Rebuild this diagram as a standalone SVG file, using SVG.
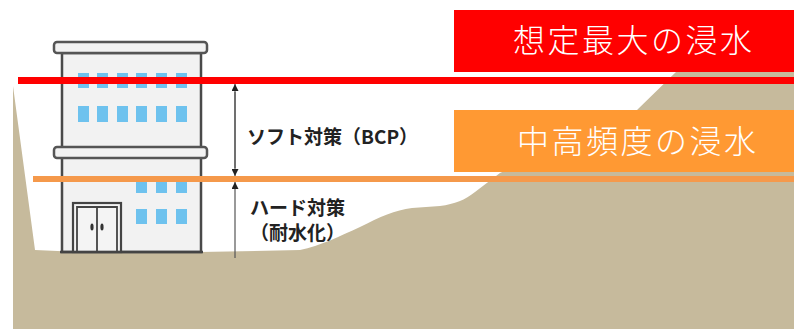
<svg xmlns="http://www.w3.org/2000/svg" width="794" height="329" viewBox="0 0 794 329">
  <style>
    .ground { fill: #C6BA9C; }
    .wall { fill: #F2F2F2; stroke: #4A4A4A; stroke-width: 2.5; }
    .ledge { fill: #F2F2F2; stroke: #555555; stroke-width: 2.5; }
    .win { fill: #6EC2EE; }
    .door { fill: #F4F4F4; stroke: #444444; stroke-width: 2.2; }
    .doorline { stroke: #444444; stroke-width: 1.8; fill: none; }
    .knob { fill: #333333; }
    .banner-text { font-family: "Noto Sans CJK JP", "Noto Sans", sans-serif; font-size: 32px; font-weight: 300; fill: #FFFFFF; letter-spacing: 2.5px; }
    .label { font-family: "Noto Sans CJK JP", "Noto Sans", sans-serif; font-size: 19px; font-weight: 700; fill: #222222; }
    .dim { stroke: #555555; stroke-width: 1.2; fill: none; }
  </style>
  <defs>
    <marker id="tip" viewBox="0 0 10 10" refX="10" refY="5" markerWidth="7" markerHeight="7" markerUnits="userSpaceOnUse" orient="auto">
      <path d="M0,0 L10,5 L0,10 Z" fill="#222222"/>
    </marker>
  </defs>

  <rect width="794" height="329" fill="#FFFFFF"/>

  <!-- terrain: slope on the left, valley floor, hill rising to the right -->
  <path id="ground" class="ground" d="M13,86 L35,250 Q120,254 200,252 L300,250 C320,246 340,236 360,227 C380,217 395,210 412,208 L440,206 C455,204 465,200 475,192 L500,173 L637,110 L677,71 L700,50 L794,50 L794,329 L13,329 Z"/>

  <!-- building -->
  <g id="building">
    <rect class="wall" x="62" y="53" width="139" height="199"/>
    <rect class="ledge" x="54" y="42" width="153" height="11" rx="3"/>
    <rect class="ledge" x="54" y="147" width="153" height="11" rx="3"/>
    <!-- upper floor windows -->
    <g class="win">
      <rect x="78" y="73" width="11" height="15"/>
      <rect x="97" y="73" width="11" height="15"/>
      <rect x="117" y="73" width="11" height="15"/>
      <rect x="136" y="73" width="11" height="15"/>
      <rect x="156" y="73" width="11" height="15"/>
      <rect x="176" y="73" width="11" height="15"/>
      <rect x="78" y="106" width="11" height="16"/>
      <rect x="97" y="106" width="11" height="16"/>
      <rect x="117" y="106" width="11" height="16"/>
      <rect x="136" y="106" width="11" height="16"/>
      <rect x="156" y="106" width="11" height="16"/>
      <rect x="176" y="106" width="11" height="16"/>
      <!-- ground floor windows -->
      <rect x="136" y="179" width="11" height="14"/>
      <rect x="156" y="179" width="11" height="14"/>
      <rect x="176" y="179" width="11" height="14"/>
      <rect x="136" y="209" width="11" height="15"/>
      <rect x="156" y="209" width="11" height="15"/>
      <rect x="176" y="209" width="11" height="15"/>
    </g>
    <!-- entrance door -->
    <rect class="door" x="73" y="203" width="48" height="49"/>
    <path class="doorline" d="M77,252 V207 H117 V252 M97,207 V252"/>
    <ellipse class="knob" cx="92" cy="227" rx="1.6" ry="3.5"/>
    <ellipse class="knob" cx="102" cy="227" rx="1.6" ry="3.5"/>
    <line x1="60" y1="252" x2="203" y2="252" stroke="#444444" stroke-width="2.5"/>
  </g>

  <!-- flood levels -->
  <g id="level-max">
    <rect x="18" y="77" width="776" height="7" fill="#FF0000"/>
    <rect x="454" y="10" width="340" height="62" fill="#FF0000"/>
    <text class="banner-text" x="513" y="52">想定最大の浸水</text>
  </g>
  <g id="level-mid">
    <rect x="33" y="176" width="761" height="6" fill="#F5994B"/>
    <rect x="454" y="110" width="340" height="62" fill="#FF9933"/>
    <text class="banner-text" x="517" y="153">中高頻度の浸水</text>
  </g>

  <!-- dimension arrows -->
  <g id="connectors">
    <line class="dim" x1="235" y1="168" x2="235" y2="84" marker-end="url(#tip)"/>
    <line class="dim" x1="235" y1="92" x2="235" y2="176" marker-end="url(#tip)"/>
    <line class="dim" x1="235" y1="258" x2="235" y2="182" marker-end="url(#tip)"/>
  </g>

  <g id="label-soft">
    <text class="label" x="247" y="144">ソフト対策（BCP）</text>
  </g>
  <g id="label-hard">
    <text class="label" x="250" y="215">ハード対策</text>
    <text class="label" x="250" y="240">（耐水化）</text>
  </g>
</svg>
